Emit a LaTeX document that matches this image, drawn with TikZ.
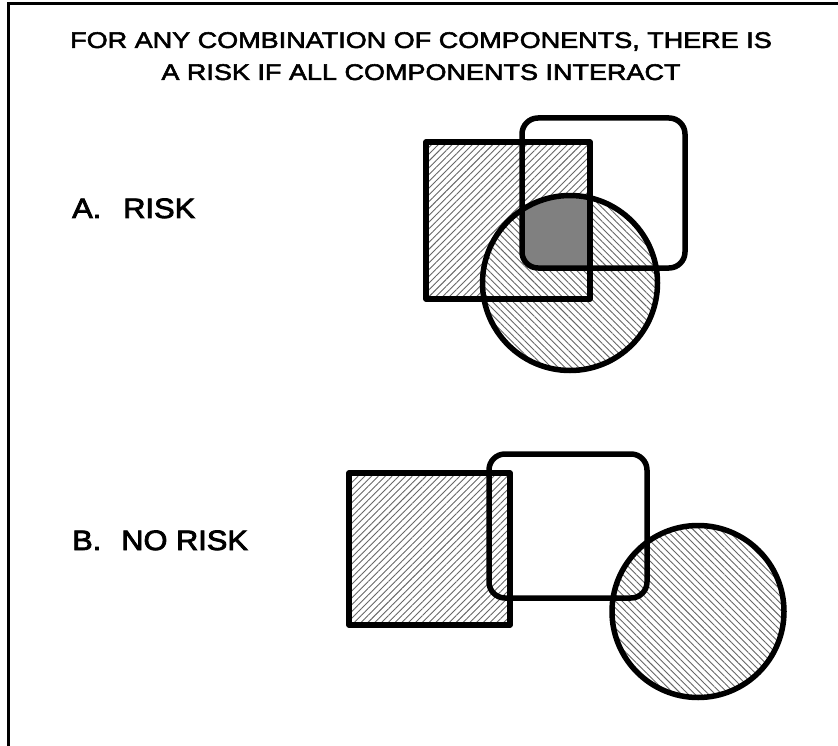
\documentclass[tikz,border=0pt]{standalone}
\usepackage{fontspec}
\setmainfont{Liberation Sans}
\newfontfamily\titlefont[FakeStretch=1.2, FakeBold=2.5]{Liberation Sans}
\newfontfamily\casefont[FakeStretch=1.1, FakeBold=3]{Liberation Sans}
\usepackage{tikz}
\usetikzlibrary{patterns.meta,positioning}

\begin{document}
\begin{tikzpicture}[
    x=1pt, y=-1pt,
    outline/.style={line width=5.5pt, line join=round},
    hatchne/.style={pattern={Lines[angle=45, distance=4.8pt, line width=0.9pt]}, pattern color=black!60},
    hatchnw/.style={preaction={fill=white}, pattern={Lines[angle=-45, distance=4.8pt, line width=0.9pt]}, pattern color=black!60},
    heading/.style={font=\titlefont\fontsize{22.5}{32}\selectfont, align=center, inner sep=0},
    caption/.style={font=\casefont\fontsize{28}{32}\selectfont, inner sep=0, anchor=base west}
]
\useasboundingbox (0,0) rectangle (838,746);

% frame
\draw[line width=2.5pt] (8.5,746) |- (838,3.5);

% title
\node[heading, anchor=north] (title) at (421,32) {FOR ANY COMBINATION OF COMPONENTS, THERE IS\\A RISK IF ALL COMPONENTS INTERACT};

% A. risk
\node[caption] (risk) at (72,218) {A.\hspace{22pt}RISK};
\fill[hatchne] (426,142) rectangle (590,299);
\fill[hatchnw] (570,283) circle (87.5);
\begin{scope}
  \clip (426,142) rectangle (590,299);
  \clip (570,283) circle (87.5);
  \fill[black!50, rounded corners=16pt] (522,118) rectangle (685,268);
\end{scope}
\draw[outline] (426,142) rectangle (590,299);
\draw[outline, rounded corners=16pt] (522,118) rectangle (685,268);
\draw[outline] (570,283) circle (87.5);

% B. no risk
\node[caption] (norisk) at (72,550) {B.\hspace{20pt}NO RISK};
\fill[hatchne] (349,473) rectangle (510,625);
\fill[hatchnw] (698,611.5) circle (86);
\draw[outline] (349,473) rectangle (510,625);
\draw[outline, rounded corners=16pt] (489,454) rectangle (647,598);
\draw[outline] (698,611.5) circle (86);

\end{tikzpicture}
\end{document}
